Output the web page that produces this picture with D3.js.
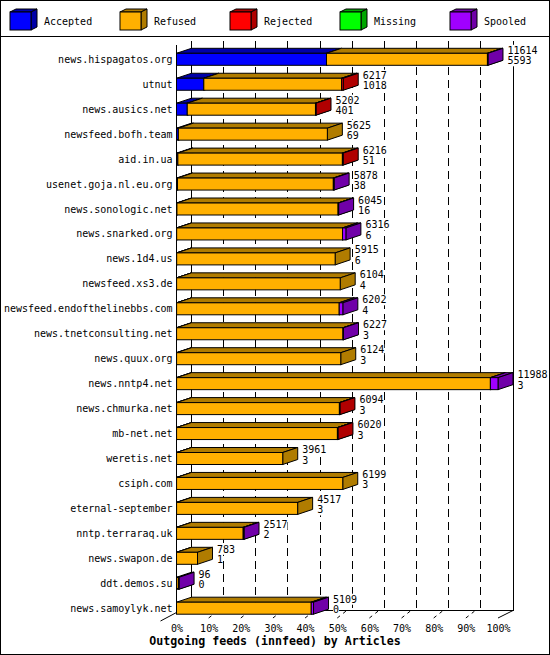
<!DOCTYPE html>
<html><head><meta charset="utf-8">
<script src="https://cdn.jsdelivr.net/npm/d3@7/dist/d3.min.js"></script>
<style>
body{margin:0;background:#fff}
svg{display:block}
text{font-family:"DejaVu Sans Mono","Liberation Mono",monospace;font-size:10px;fill:#000}
</style>
</head><body>
<svg id="c" width="550" height="655"></svg>
<script>
// ---------- data ----------
const servers = ["news.hispagatos.org","utnut","news.ausics.net","newsfeed.bofh.team","aid.in.ua",
  "usenet.goja.nl.eu.org","news.sonologic.net","news.snarked.org","news.1d4.us","newsfeed.xs3.de",
  "newsfeed.endofthelinebbs.com","news.tnetconsulting.net","news.quux.org","news.nntp4.net",
  "news.chmurka.net","mb-net.net","weretis.net","csiph.com","eternal-september","nntp.terraraq.uk",
  "news.swapon.de","ddt.demos.su","news.samoylyk.net"];
const offered  = [11614,6217,5202,5625,6216,5878,6045,6316,5915,6104,6202,6227,6124,11988,6094,6020,3961,6199,4517,2517,783,96,5109];
const accepted = [5593,1018,401,69,51,38,16,6,6,4,4,3,3,3,3,3,3,3,3,2,1,0,0];
const refused  = [6001,5139,4781,5556,6135,5810,6009,6185,5909,6100,6063,6204,6121,11701,6071,5997,3958,6196,4514,2485,782,70,5024];
const rejected = [0,60,20,0,30,0,0,0,0,0,0,0,0,0,20,20,0,0,0,0,0,0,0];
const missing  = [0,0,0,0,0,0,0,0,0,0,0,0,0,0,0,0,0,0,0,0,0,0,0];
const spooled  = [20,0,0,0,0,30,20,125,0,0,135,20,0,284,0,0,0,0,0,30,0,26,85];
const seriesNames = ["Accepted","Refused","Rejected","Missing","Spooled"];
const frontColors = ["#0000ff","#ffb000","#ff0000","#00ff00","#a000ff"];
const darkColors  = ["#0000a8","#b07c00","#b00000","#00a800","#7000a8"];
const pctTicks = [0,10,20,30,40,50,60,70,80,90,100];
const title = "Outgoing feeds (innfeed) by Articles";

// ---------- setup ----------
const series = [accepted, refused, rejected, missing, spooled];
const svg = d3.select("#c");
const DX = 15, DY = 5, HALF = 6;
const x = d3.scaleLinear().domain([0, d3.max(offered)]).range([176.5, 498]);
const pct = d3.scaleLinear().domain([0, 100]).range([176.5, 498]);
const y = d3.scalePoint().domain(servers).range([59.3, 608.2]);
const legendX = d3.scalePoint().domain(seriesNames).range([10, 450]);

svg.append("rect").attr("x",0).attr("y",0).attr("width",550).attr("height",655).attr("fill","#fff");
svg.append("rect").attr("x",0.5).attr("y",0.5).attr("width",549).attr("height",654)
  .attr("fill","none").attr("stroke","#000");

// ---------- legend ----------
const lg = svg.append("g");
seriesNames.forEach((n,i)=>{
  const lx = legendX(n);
  const g = lg.append("g");
  g.append("polygon").attr("points",[[lx,12],[lx+6,9],[lx+27,9],[lx+21,12]].join(" "))
    .attr("fill",darkColors[i]).attr("stroke","#000");
  g.append("polygon").attr("points",[[lx+21,12],[lx+27,9],[lx+27,27],[lx+21,30]].join(" "))
    .attr("fill",darkColors[i]).attr("stroke","#000");
  g.append("rect").attr("x",lx).attr("y",12).attr("width",21).attr("height",18)
    .attr("fill",frontColors[i]).attr("stroke","#000");
  g.append("text").attr("x",lx+34).attr("y",21).attr("dominant-baseline","central").text(n);
});
svg.append("line").attr("x1",0).attr("x2",550).attr("y1",36.5).attr("y2",36.5).attr("stroke","#000");

// ---------- walls / grid ----------
const grid = svg.append("g").attr("stroke","#000").attr("fill","none").attr("shape-rendering","crispEdges");
pctTicks.filter(p=>p>0 && p<100).forEach(p=>{
  grid.append("line").attr("x1",pct(p)+DX).attr("x2",pct(p)+DX).attr("y1",41).attr("y2",610)
    .attr("stroke-dasharray","8,5");
});
grid.append("line").attr("x1",pct(0)+DX).attr("x2",pct(0)+DX).attr("y1",41).attr("y2",610);
grid.append("line").attr("x1",pct(100)+DX).attr("x2",pct(100)+DX).attr("y1",41).attr("y2",610.5);
grid.append("line").attr("x1",pct(0)+DX).attr("x2",pct(100)+DX).attr("y1",610.5).attr("y2",610.5);
grid.append("line").attr("x1",pct(0)).attr("x2",pct(0)).attr("y1",45).attr("y2",612.5);
const floor = svg.append("g").attr("stroke","#000").attr("fill","none");
floor.append("line").attr("x1",pct(100)+DX).attr("y1",610.5).attr("x2",pct(100)).attr("y2",618);
floor.append("line").attr("x1",pct(0)).attr("y1",612.5).attr("x2",pct(0)-16).attr("y2",621);
pctTicks.filter(p=>p>0 && p<100).forEach(p=>{
  floor.append("line").attr("x1",pct(p)).attr("y1",618).attr("x2",pct(p)+9.5).attr("y2",610.5)
    .attr("stroke-dasharray","3.5,4");
});

// ---------- bars ----------
const bars = svg.append("g").attr("stroke","#000").attr("stroke-width",1);
servers.forEach((s,i)=>{
  const c = y(s);
  let cum = 0;
  series.forEach((arr,k)=>{
    const v = arr[i];
    if (v <= 0) return;
    const x0 = x(cum), x1 = x(cum+v);
    cum += v;
    const g = bars.append("g");
    g.append("polygon").attr("points",[[x0,c-HALF],[x0+DX,c-HALF-DY],[x1+DX,c-HALF-DY],[x1,c-HALF]].join(" "))
      .attr("fill",darkColors[k]);
    g.append("polygon").attr("points",[[x1,c-HALF],[x1+DX,c-HALF-DY],[x1+DX,c+HALF-DY],[x1,c+HALF]].join(" "))
      .attr("fill",darkColors[k]);
    g.append("rect").attr("x",x0).attr("y",c-HALF).attr("width",x1-x0).attr("height",2*HALF)
      .attr("fill",frontColors[k]);
  });
});

// ---------- texts ----------
const labels = svg.append("g");
servers.forEach((s,i)=>{
  const c = y(s);
  labels.append("text").attr("x",172.5).attr("y",c).attr("text-anchor","end")
    .attr("dominant-baseline","central").text(s);
  const tx = x(offered[i]) + DX + 4.5;
  [[offered[i], c-9],[accepted[i], c+1.5]].forEach(([val,ty])=>{
    const w = String(val).length * 6;
    labels.append("rect").attr("x",tx).attr("y",ty-5.5).attr("width",w).attr("height",11).attr("fill","#fff");
    labels.append("text").attr("x",tx).attr("y",ty).attr("dominant-baseline","central").text(val);
  });
});

const axis = d3.axisBottom(pct).tickValues(pctTicks).tickSize(0).tickPadding(0).tickFormat(d=>d+"%");
const ag = svg.append("g").attr("transform","translate(0,622)").call(axis);
ag.select(".domain").remove();
ag.selectAll("text").attr("font-family",null).attr("font-size",null).attr("fill","#000")
  .attr("dy",null).attr("y",6.3).attr("dominant-baseline","central");

svg.append("text").attr("x",275).attr("y",641).attr("text-anchor","middle")
  .attr("dominant-baseline","central").style("font-weight","bold").style("font-size","11.6px").text(title);
</script>
</body></html>
